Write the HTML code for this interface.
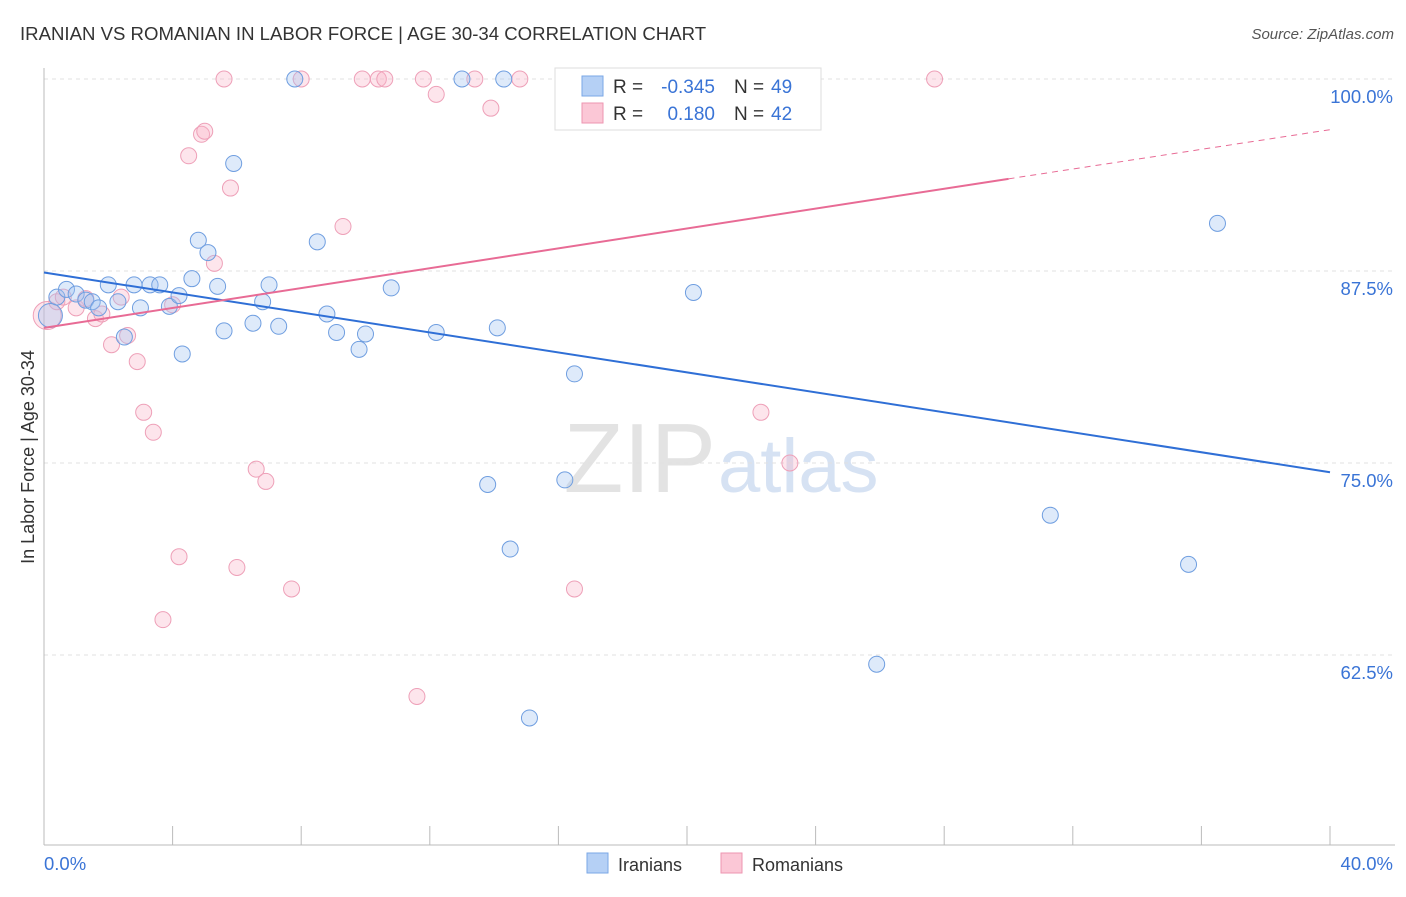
<!DOCTYPE html>
<html><head><meta charset="utf-8"><style>
body{margin:0;background:#fff;font-family:"Liberation Sans",sans-serif;}
svg text{font-family:"Liberation Sans",sans-serif;}
</style></head><body>
<svg id="c" width="1406" height="892" xmlns="http://www.w3.org/2000/svg">
<text x="20" y="40" font-size="18.6" fill="#333">IRANIAN VS ROMANIAN IN LABOR FORCE | AGE 30-34 CORRELATION CHART</text>
<text x="1394" y="39" font-size="15" fill="#555" text-anchor="end" font-style="italic">Source: ZipAtlas.com</text>
<text x="716" y="492" font-size="98" fill="#e3e3e3" text-anchor="end" font-family="Liberation Serif">ZIP</text>
<text x="718" y="492" font-size="76" fill="#d6e2f3">atlas</text>
<text transform="translate(34,457) rotate(-90)" font-size="18" fill="#333" text-anchor="middle">In Labor Force | Age 30-34</text>
<g id="grid"></g><g id="pts"></g><g id="lines"></g>
<g>
<rect x="555" y="68" width="266" height="62" fill="#fff" stroke="#ddd"/>
<rect x="582" y="76" width="21" height="20" fill="#b5d0f5" stroke="#7aa7e6"/>
<rect x="582" y="103" width="21" height="20" fill="#fbc7d6" stroke="#ee96b0"/>
<text x="613" y="93" font-size="19" fill="#333">R =</text><text x="715" y="93" font-size="19" fill="#3a74d6" text-anchor="end">-0.345</text>
<text x="734" y="93" font-size="19" fill="#333">N =</text><text x="771" y="93" font-size="19" fill="#3a74d6">49</text>
<text x="613" y="120" font-size="19" fill="#333">R =</text><text x="715" y="120" font-size="19" fill="#3a74d6" text-anchor="end">0.180</text>
<text x="734" y="120" font-size="19" fill="#333">N =</text><text x="771" y="120" font-size="19" fill="#3a74d6">42</text>
</g>
<g>
<rect x="587" y="853" width="21" height="20" fill="#b5d0f5" stroke="#7aa7e6"/><text x="618" y="871" font-size="18" fill="#333">Iranians</text>
<rect x="721" y="853" width="21" height="20" fill="#fbc7d6" stroke="#ee96b0"/><text x="752" y="871" font-size="18" fill="#333">Romanians</text>
</g>
</svg>
<script>
const yTicks=[100,87.5,75,62.5];
const xTickLabels=["0.0%","40.0%"];
const iranX=[0.4,0.7,1.0,1.3,1.5,1.7,2.0,2.3,2.5,2.8,3.0,3.3,3.6,3.9,4.2,4.3,4.6,4.8,5.1,5.4,5.6,5.9,6.5,6.8,7.0,7.3,7.8,8.5,8.8,9.1,9.8,10.0,10.8,12.2,13.0,13.8,14.1,14.3,14.5,15.1,16.2,16.5,20.2,21.6,25.9,31.3,35.6,36.5,0.2];
const iranY=[85.8,86.3,86.0,85.6,85.5,85.1,86.6,85.5,83.2,86.6,85.1,86.6,86.6,85.2,85.9,82.1,87.0,89.5,88.7,86.5,83.6,94.5,84.1,85.5,86.6,83.9,100,89.4,84.7,83.5,82.4,83.4,86.4,83.5,100,73.6,83.8,100,69.4,58.4,73.9,80.8,86.1,100,61.9,71.6,68.4,90.6,84.6];
const romX=[0.1,0.4,0.6,1.0,1.3,1.6,1.8,2.1,2.4,2.6,2.9,3.1,3.4,3.7,4.0,4.2,4.5,4.9,5.0,5.3,5.6,5.8,6.0,6.6,6.9,7.7,8.0,9.3,9.9,10.4,10.6,11.6,11.8,12.2,13.4,13.9,14.8,16.5,16.6,22.3,23.2,27.7];
const romY=[84.6,85.5,85.8,85.1,85.7,84.4,84.7,82.7,85.8,83.3,81.6,78.3,77.0,64.8,85.3,68.9,95.0,96.4,96.6,88.0,100,92.9,68.2,74.6,73.8,66.8,100,90.4,100,100,100,59.8,100,99.0,100,98.1,100,66.8,100,78.3,75.0,100];
const X0=44,X1=1330,Y100=79,PX=15.36;
const sx=v=>X0+(X1-X0)*v/40, sy=v=>Y100+(100-v)*PX;
const NS="http://www.w3.org/2000/svg";
function mk(t,a,p){const e=document.createElementNS(NS,t);for(const k in a)e.setAttribute(k,a[k]);p.appendChild(e);return e;}
const grid=document.getElementById('grid');
yTicks.forEach(t=>{
 const l=mk('line',{x1:44,x2:1395,y1:sy(t),y2:sy(t),stroke:'#e0e0e0','stroke-dasharray':'4,4'},grid);
 
 
 const tx=mk('text',{x:1393,y:sy(t)+24,'font-size':18.5,fill:'#3a74d6','text-anchor':'end'},grid);tx.textContent=t.toFixed(1)+'%';
 
 
});
const ax=mk('line',{x1:44,x2:44,y1:68,y2:845,stroke:'#bbb'},grid);


const bx=mk('line',{x1:44,x2:1395,y1:845,y2:845,stroke:'#bbb'},grid);


for(let i=0;i<=10;i++){const t=mk('line',{x1:sx(i*4),x2:sx(i*4),y1:826,y2:845,stroke:'#bbb'},grid);
 
 }
[[44,'start',0],[1393,'end',1]].forEach(([x,a,i])=>{const t=mk('text',{x:x,y:870,'font-size':18.5,fill:'#3a74d6','text-anchor':a},grid);t.textContent=xTickLabels[i];
 
 });
const pts=document.getElementById('pts');
romX.forEach((v,i)=>{const c=mk('circle',{cx:sx(v),cy:sy(romY[i]),r:i==0?14:8,fill:'rgba(248,180,200,0.35)',stroke:'#eea0b8','stroke-width':1},pts);
 
 });
iranX.forEach((v,i)=>{const c=mk('circle',{cx:sx(v),cy:sy(iranY[i]),r:i==48?12:8,fill:'rgba(160,195,240,0.35)',stroke:'#6f9ee0','stroke-width':1},pts);
 
 });
const lines=document.getElementById('lines');
const bl=mk('line',{x1:sx(0),y1:sy(87.4),x2:sx(40),y2:sy(74.4),stroke:'#2f6fd6','stroke-width':2},lines);


const pl=mk('line',{x1:sx(0),y1:sy(83.8),x2:sx(30),y2:sy(93.5),stroke:'#e86b95','stroke-width':2},lines);


const pd=mk('line',{x1:sx(30),y1:sy(93.5),x2:sx(40),y2:sy(96.7),stroke:'#e86b95','stroke-width':1,'stroke-dasharray':'6,5'},lines);


</script>
</body></html>
